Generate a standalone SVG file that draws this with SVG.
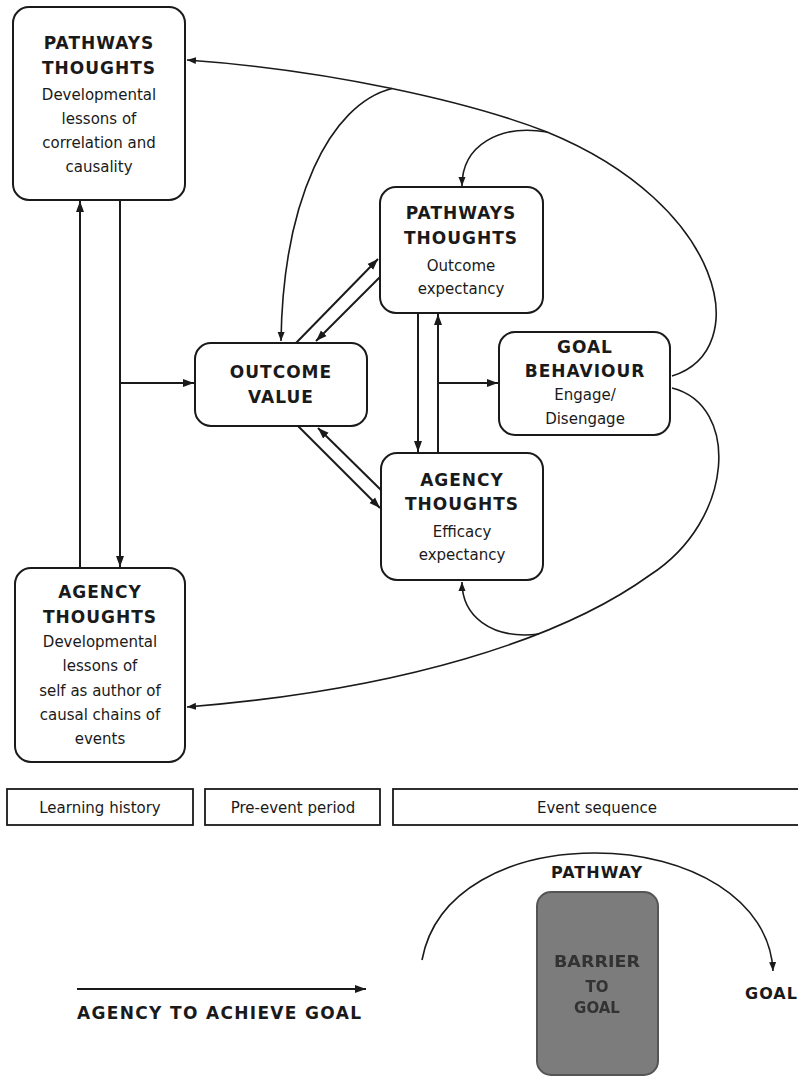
<svg xmlns="http://www.w3.org/2000/svg" width="798" height="1081" viewBox="0 0 798 1081">
  <style>
    .box { fill: #ffffff; stroke: #1a1a1a; stroke-width: 2; }
    .bar { fill: #ffffff; stroke: #1a1a1a; stroke-width: 1.8; }
    .hd { font-family: "DejaVu Sans", sans-serif; font-weight: bold; font-size: 17px; letter-spacing: 1px; fill: #1a1a1a; text-anchor: middle; }
    .tx { font-family: "DejaVu Sans", sans-serif; font-size: 15px; fill: #1a1a1a; text-anchor: middle; }
    .lbl { font-family: "DejaVu Sans", sans-serif; font-size: 15px; fill: #1a1a1a; text-anchor: middle; }
    .ln { fill: none; stroke: #1a1a1a; stroke-width: 2; }
    .cv { fill: none; stroke: #1a1a1a; stroke-width: 1.6; }
    .bt { font-family: "DejaVu Sans", sans-serif; font-weight: bold; font-size: 15px; fill: #333333; text-anchor: middle; }
  </style>
  <defs>
    <marker id="arr" markerUnits="userSpaceOnUse" markerWidth="12" markerHeight="10" refX="11" refY="5" orient="auto">
      <path d="M0,1 L11,5 L0,9 Z" fill="#1a1a1a"/>
    </marker>
    <marker id="arrs" markerUnits="userSpaceOnUse" markerWidth="10" markerHeight="8" refX="9" refY="4" orient="auto">
      <path d="M0,0.5 L9,4 L0,7.5 Z" fill="#1a1a1a"/>
    </marker>
    <filter id="soft" x="-10%" y="-20%" width="120%" height="140%">
      <feGaussianBlur stdDeviation="0.7"/>
    </filter>
  </defs>

  <rect width="798" height="1081" fill="#ffffff"/>

  <!-- connectors -->
  <g id="connectors">
    <!-- left column between the two developmental boxes -->
    <line class="ln" x1="80" y1="568" x2="80" y2="201" marker-end="url(#arr)"/>
    <line class="ln" x1="120" y1="200" x2="120" y2="567" marker-end="url(#arr)"/>
    <line class="ln" x1="120" y1="383" x2="194" y2="383" marker-end="url(#arr)"/>

    <!-- outcome value <-> pathways thoughts -->
    <line class="ln" x1="296" y1="343" x2="378" y2="259" marker-end="url(#arr)"/>
    <line class="ln" x1="381" y1="276" x2="316" y2="341" marker-end="url(#arr)"/>
    <!-- outcome value <-> agency thoughts -->
    <line class="ln" x1="298" y1="426" x2="380" y2="508" marker-end="url(#arr)"/>
    <line class="ln" x1="381" y1="490" x2="318" y2="428" marker-end="url(#arr)"/>

    <!-- pathways thoughts <-> agency thoughts -->
    <line class="ln" x1="418" y1="313" x2="418" y2="452" marker-end="url(#arr)"/>
    <line class="ln" x1="438" y1="453" x2="438" y2="314" marker-end="url(#arr)"/>
    <line class="ln" x1="438" y1="383" x2="498" y2="383" marker-end="url(#arr)"/>

    <!-- feedback from goal behaviour to pathways thoughts (developmental) -->
    <path class="cv" d="M672,376 C755,350 725,205 547,132 C470,102 330,70 187,60" marker-end="url(#arrs)"/>
    <!-- branch down to outcome value -->
    <path class="cv" d="M392,88.5 C330,104 283,200 281,341" marker-end="url(#arrs)"/>
    <!-- branch down to pathways thoughts (outcome expectancy) -->
    <path class="cv" d="M547,132 C500,124 462,145 462,186" marker-end="url(#arrs)"/>

    <!-- feedback from goal behaviour to agency thoughts (developmental) -->
    <path class="cv" d="M672,388 C740,405 735,520 650,575 C560,640 400,690 187,707" marker-end="url(#arrs)"/>
    <!-- branch up to agency thoughts (efficacy expectancy) -->
    <path class="cv" d="M539,634 C490,640 462,615 462,582" marker-end="url(#arrs)"/>

    <!-- legend: pathway arc -->
    <path class="cv" d="M422,960 C435,890 510,853 595,853 C690,853 770,900 773,971" marker-end="url(#arrs)"/>
    <!-- legend: agency arrow -->
    <line class="ln" x1="77" y1="989" x2="366" y2="989" marker-end="url(#arr)"/>
  </g>

  <!-- nodes -->
  <g id="pathways-developmental">
    <rect class="box" x="13" y="7" width="172" height="193" rx="16"/>
    <text class="hd" x="99" y="49">PATHWAYS</text>
    <text class="hd" x="99" y="74">THOUGHTS</text>
    <text class="tx" x="99" y="100">Developmental</text>
    <text class="tx" x="99" y="124">lessons of</text>
    <text class="tx" x="99" y="148">correlation and</text>
    <text class="tx" x="99" y="172">causality</text>
  </g>

  <g id="agency-developmental">
    <rect class="box" x="15" y="568" width="170" height="194" rx="16"/>
    <text class="hd" x="100" y="598">AGENCY</text>
    <text class="hd" x="100" y="623">THOUGHTS</text>
    <text class="tx" x="100" y="647">Developmental</text>
    <text class="tx" x="100" y="671">lessons of</text>
    <text class="tx" x="100" y="696">self as author of</text>
    <text class="tx" x="100" y="720">causal chains of</text>
    <text class="tx" x="100" y="744">events</text>
  </g>

  <g id="outcome-value">
    <rect class="box" x="195" y="343" width="172" height="83" rx="16"/>
    <text class="hd" x="281" y="378">OUTCOME</text>
    <text class="hd" x="281" y="403">VALUE</text>
  </g>

  <g id="pathways-outcome">
    <rect class="box" x="380" y="187" width="163" height="126" rx="16"/>
    <text class="hd" x="461" y="219">PATHWAYS</text>
    <text class="hd" x="461" y="244">THOUGHTS</text>
    <text class="tx" x="461" y="271">Outcome</text>
    <text class="tx" x="461" y="294">expectancy</text>
  </g>

  <g id="agency-efficacy">
    <rect class="box" x="381" y="453" width="162" height="127" rx="16"/>
    <text class="hd" x="462" y="486">AGENCY</text>
    <text class="hd" x="462" y="510">THOUGHTS</text>
    <text class="tx" x="462" y="537">Efficacy</text>
    <text class="tx" x="462" y="560">expectancy</text>
  </g>

  <g id="goal-behaviour">
    <rect class="box" x="499" y="332" width="171" height="103" rx="16"/>
    <text class="hd" x="585" y="353">GOAL</text>
    <text class="hd" x="585" y="377">BEHAVIOUR</text>
    <text class="tx" x="585" y="400">Engage/</text>
    <text class="tx" x="585" y="424">Disengage</text>
  </g>

  <!-- timeline bars -->
  <g id="learning-history">
    <rect class="bar" x="7" y="789" width="186" height="36"/>
    <text class="lbl" x="100" y="813">Learning history</text>
  </g>
  <g id="pre-event-period">
    <rect class="bar" x="205" y="789" width="175" height="36"/>
    <text class="lbl" x="293" y="813">Pre-event period</text>
  </g>
  <g id="event-sequence">
    <rect class="bar" x="393" y="789" width="410" height="36"/>
    <text class="lbl" x="597" y="813">Event sequence</text>
  </g>

  <!-- legend -->
  <g id="legend-pathway">
    <text class="hd" x="597" y="878" style="font-size:16px">PATHWAY</text>
    <text class="hd" x="745" y="999" style="font-size:16px;text-anchor:start">GOAL</text>
  </g>
  <g id="legend-barrier">
    <rect x="537" y="892" width="121" height="183" rx="14" fill="#7c7c7c" stroke="#555555" stroke-width="2"/>
    <g filter="url(#soft)">
      <text class="bt" x="597" y="967" textLength="86" lengthAdjust="spacingAndGlyphs">BARRIER</text>
      <text class="bt" x="597" y="992">TO</text>
      <text class="bt" x="597" y="1013">GOAL</text>
    </g>
  </g>
  <g id="legend-agency">
    <text class="hd" x="77" y="1019" style="text-anchor:start" textLength="285" lengthAdjust="spacing">AGENCY TO ACHIEVE GOAL</text>
  </g>
</svg>
